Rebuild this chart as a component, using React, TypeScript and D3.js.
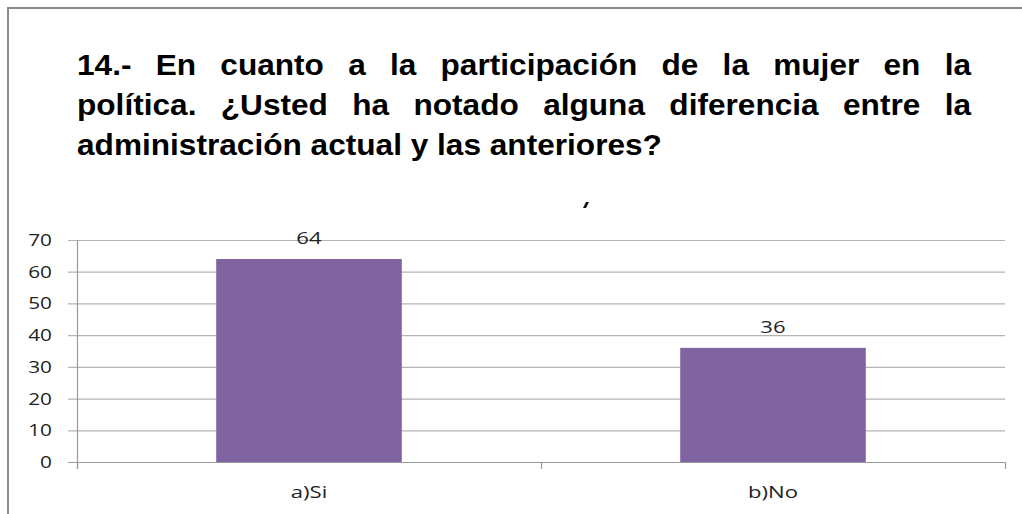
import React, { useEffect, useRef } from "react";
import * as d3 from "d3";

const titleLines = [
  "14.- En cuanto a la participación de la mujer en la",
  "política. ¿Usted ha notado alguna diferencia entre la",
  "administración actual y las anteriores?",
];
const categories = ["a)Si", "b)No"];
const values = [64, 36];
const yTicks = [0, 10, 20, 30, 40, 50, 60, 70];

const W = 1022;
const H = 514;
const SX = 1.3;
const LABEL_FONT = "Open Sans, Noto Sans, sans-serif";

export default function App() {
  const ref = useRef<SVGSVGElement | null>(null);

  useEffect(() => {
    const svg = d3.select(ref.current);
    svg.selectAll("*").remove();

    // outer frame
    svg.append("line").attr("x1", 8).attr("x2", W).attr("y1", 8).attr("y2", 8)
      .attr("stroke", "#8a8a8a").attr("stroke-width", 2);
    svg.append("line").attr("x1", 8).attr("x2", 8).attr("y1", 7).attr("y2", H)
      .attr("stroke", "#8a8a8a").attr("stroke-width", 2);

    // title
    const left = 77;
    const right = 971;
    const line3Width = 585;
    const baselines = [75, 115, 155];
    const tg = svg.append("g");
    const texts = titleLines.map((t, i) =>
      tg.append("text")
        .attr("x", 0)
        .attr("y", baselines[i])
        .attr("font-family", "Liberation Sans, Arial, sans-serif")
        .attr("font-weight", "bold")
        .attr("font-size", 29)
        .attr("fill", "#000")
        .text(t)
    );
    const w3 = (texts[2].node() as SVGTextElement).getComputedTextLength();
    const k = line3Width / w3;
    tg.attr("transform", `translate(${left},0) scale(${k},1)`);
    [0, 1].forEach((i) => {
      const node = texts[i].node() as SVGTextElement;
      const w = node.getComputedTextLength();
      const gaps = titleLines[i].split(" ").length - 1;
      const target = (right - left) / k;
      texts[i].attr("word-spacing", (target - w) / gaps);
    });

    // stray mark
    svg.append("path").attr("d", "M583,208 L586,202 L589,202 L586,208 Z").attr("fill", "#111");

    const y = d3.scaleLinear().domain([0, 70]).range([462, 240]);
    const x = d3.scaleBand<string>().domain(categories).range([77, 1005])
      .paddingInner(0.6).paddingOuter(0.3);

    // gridlines
    svg.append("g").selectAll("line").data(yTicks).join("line")
      .attr("x1", 68).attr("x2", 1005)
      .attr("y1", (d) => y(d) + 0.5).attr("y2", (d) => y(d) + 0.5)
      .attr("stroke", (d) => (d === 0 ? "#9a9a9a" : "#b4b4b4"))
      .attr("stroke-width", 1.2);

    // y axis line
    svg.append("line").attr("x1", 77.5).attr("x2", 77.5).attr("y1", 240).attr("y2", 469)
      .attr("stroke", "#9a9a9a").attr("stroke-width", 1.2);

    // x ticks between categories
    const step = x.step();
    const tickXs = [0, 1, 2].map((i) => 77 + i * step);
    svg.append("g").selectAll("line").data(tickXs).join("line")
      .attr("x1", (d) => d + 0.5).attr("x2", (d) => d + 0.5)
      .attr("y1", 462).attr("y2", 469)
      .attr("stroke", "#9a9a9a").attr("stroke-width", 1.2);

    // y tick labels
    svg.append("g").selectAll("text").data(yTicks).join("text")
      .attr("transform", (d) => `translate(52,${y(d) + 6}) scale(${SX},1)`)
      .attr("text-anchor", "end")
      .attr("font-family", LABEL_FONT)
      .attr("font-size", 16)
      .attr("fill", "#222")
      .text((d) => String(d));

    // bars
    svg.append("g").selectAll("rect").data(values).join("rect")
      .attr("x", (_d, i) => x(categories[i]) as number)
      .attr("width", x.bandwidth())
      .attr("y", (d) => y(d))
      .attr("height", (d) => y(0) - y(d))
      .attr("fill", "#8064A2");

    // value labels
    svg.append("g").selectAll("text").data(values).join("text")
      .attr("transform", (d, i) =>
        `translate(${(x(categories[i]) as number) + x.bandwidth() / 2},${y(d) - 15}) scale(${SX},1)`)
      .attr("text-anchor", "middle")
      .attr("font-family", LABEL_FONT)
      .attr("font-size", 17)
      .attr("fill", "#222")
      .text((d) => String(d));

    // category labels
    svg.append("g").selectAll("text").data(categories).join("text")
      .attr("transform", (d) =>
        `translate(${(x(d) as number) + x.bandwidth() / 2},498) scale(${SX},1)`)
      .attr("text-anchor", "middle")
      .attr("font-family", LABEL_FONT)
      .attr("font-size", 17)
      .attr("fill", "#222")
      .text((d) => d);
  }, []);

  return (
    <svg
      ref={ref}
      width={W}
      height={H}
      style={{ position: "absolute", left: 0, top: 0, background: "#fff" }}
    />
  );
}
